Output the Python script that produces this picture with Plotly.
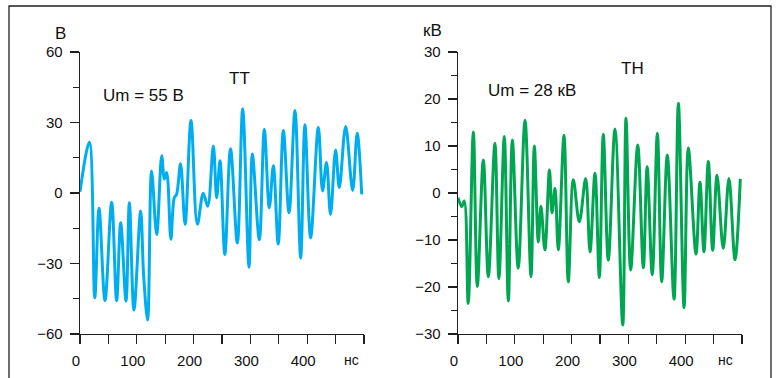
import plotly.graph_objects as go

# ---- data ----
tt_time = [0, 16.5, 26, 33.5, 44, 55.7, 64.5, 71.6, 81, 86.9, 95, 106.8, 112, 119,
           126, 135, 143.8, 148.5, 152.6, 160, 166, 170, 177, 185, 195.4, 206.6,
           217, 224.8, 234.7, 240.6, 246.5, 255, 265, 277, 286.4, 297.5, 303.4,
           315.7, 324.5, 333.3, 340.4, 349, 358, 368, 378.5, 388.5, 396, 406,
           419.6, 427, 434, 441, 450, 456.5, 467.7, 480, 488, 496]
tt_volts = [0.5, 21.6, -44.6, -6.5, -45.8, -3.9, -45.8, -12.7, -46, -4.1, -49.8, -7.7, -35, -54,
            9.4, -17.7, 15.9, 6, 8.7, -19.7, -2, -0.6, 12.4, -13.3, 30.9, -13.3,
            -0.1, -5.6, 20, -2, 13.7, -26.2, 18.8, -21.3, 35.9, -31.5, 16.6,
            -19.9, 27, -6.3, 11.6, -21.7, 26.6, -8.4, 35.1, -27.7, 29, -19.1,
            28, 0.9, 13, -9.1, 18.3, 2.3, 28.3, 1.1, 25.4, -0.6]

th_time = [0, 6.5, 11, 18, 27, 34, 44.6, 53.4, 65, 72, 81.5, 88.6, 95.7, 106, 118,
           128.5, 134.4, 141.4, 146, 153, 161, 165.5, 170.8, 176.6, 186.6, 194.2,
           203, 213.6, 224.8, 232.4, 241.2, 248.8, 255.8, 264.6, 276.4, 290,
           295.8, 304, 316.4, 326.3, 333, 342, 351, 358.6, 368.5, 380.3, 388,
           398, 405.5, 419, 426, 433, 440.7, 448.4, 456, 467, 477, 487.7, 497]
th_kvolts = [-1, -2.9, -1.7, -23.5, 13, -19.9, 7, -17.8, 10.6, -18.2, 12, -23, 11.3, -16, 15.5,
             -17.8, 10, -10.4, -2.8, -12.1, 4.9, -4.2, 1, -12.1, 12.3, -18.9,
             2.8, -6.1, 3.1, -12.5, 4.2, -18, 12.5, -14.3, 13.6, -28.1,
             15.9, -16.4, 10.2, -15.9, 5.6, -17.4, 12.7, -18.9, 8.1, -22.6, 19.1,
             -24.4, 9.6, -13, 2.3, -12.5, 6.7, -12.2, 3.8, -11.8, 3.1, -14.2, 3]

x_tickvals = [0, 50, 100, 150, 200, 250, 300, 350, 400, 450, 500]
x_ticktext = ["0", "", "100", "", "200", "", "300", "", "400", "", ""]
tt_yticks = [-60, -30, 0, 30, 60]
th_yticks = [-30, -20, -10, 0, 10, 20, 30]

W, H = 777, 378
FONT = "Liberation Sans"
AX = "#231f20"
BLUE = "#00aeef"
GREEN = "#00a651"

def px(x):
    return x / W

def py(y):
    return 1 - y / H

fig = go.Figure()
fig.add_trace(go.Scatter(x=tt_time, y=tt_volts, mode="lines",
                         line=dict(color=BLUE, width=3, shape="spline", smoothing=1),
                         xaxis="x", yaxis="y", showlegend=False, hoverinfo="skip"))
fig.add_trace(go.Scatter(x=th_time, y=th_kvolts, mode="lines",
                         line=dict(color=GREEN, width=3, shape="spline", smoothing=1),
                         xaxis="x2", yaxis="y2", showlegend=False, hoverinfo="skip"))

ydom = [py(334), py(52)]

def xaxis(dom, anchor):
    return dict(domain=dom, anchor=anchor, range=[0, 500], showgrid=False, zeroline=False,
                automargin=False,
                showline=True, linecolor=AX, linewidth=1.4,
                tickmode="array", tickvals=x_tickvals, ticktext=x_ticktext,
                ticks="outside", ticklen=9, tickwidth=1.3, tickcolor=AX,
                tickfont=dict(family=FONT, size=15, color="#111"),
                ticklabelshift=-4, ticklabelstandoff=4)

def yaxis(anchor, rng, vals, minor):
    return dict(domain=ydom, anchor=anchor, range=rng, showgrid=False, zeroline=False,
                automargin=False,
                showline=True, linecolor=AX, linewidth=1.4,
                tickmode="array", tickvals=vals,
                ticks="outside", ticklen=9, tickwidth=1.3, tickcolor=AX,
                minor=dict(ticks="outside", ticklen=6, tickwidth=1.3, tickcolor=AX, dtick=minor,
                           showgrid=False),
                tickfont=dict(family=FONT, size=15, color="#111"),
                ticklabelstandoff=4)

fig.update_layout(
    width=W, height=H, margin=dict(l=0, r=0, t=0, b=0, autoexpand=False),
    paper_bgcolor="white", plot_bgcolor="white",
    xaxis=xaxis([px(80), px(364)], "y"),
    yaxis=yaxis("x", [-60, 60], tt_yticks, 15),
    xaxis2=xaxis([px(458), px(742)], "y2"),
    yaxis2=yaxis("x2", [-30, 30], th_yticks, 5),
    font=dict(family=FONT, color="#111"),
)

def ann(text, x, y, size):
    fig.add_annotation(text=text, x=px(x), y=py(y), xref="paper", yref="paper",
                       xanchor="center", yanchor="middle", showarrow=False,
                       font=dict(family=FONT, size=size, color="#111"))

ann("B", 60, 33, 17)
ann("Um = 55 B", 143, 95, 17)
ann("TT", 239, 79, 17)
ann("нс", 351, 360, 14)
ann("кВ", 432.5, 30.5, 17)
ann("Um = 28 кВ", 532, 91, 17)
ann("TH", 632.5, 68.5, 17)
ann("нс", 725.5, 360, 14)

# outer frame
fig.add_shape(type="rect", xref="paper", yref="paper",
              x0=px(9), x1=px(771), y0=-0.2, y1=py(6),
              line=dict(color=AX, width=1.3), fillcolor="rgba(0,0,0,0)", layer="below")

# remove the default page margin so the figure sits at the window's top-left corner
fig.write_html("out.html",
               config={"displayModeBar": False, "staticPlot": True},
               post_script="document.body.style.margin='0px';document.body.style.overflow='hidden';")
